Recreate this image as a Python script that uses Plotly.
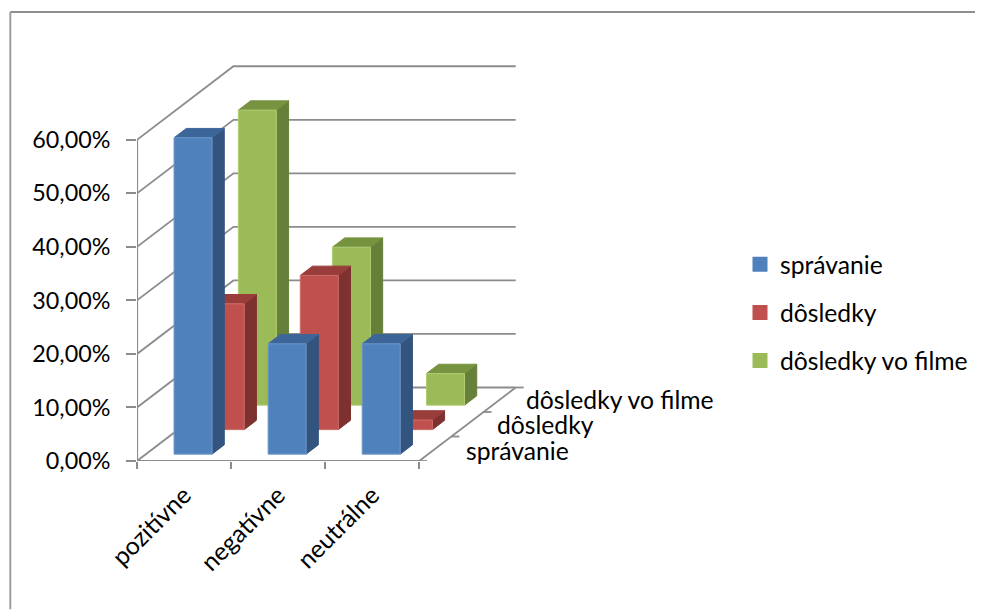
import plotly.graph_objects as go

categories = ["pozitívne", "negatívne", "neutrálne"]
series_names = ["správanie", "dôsledky", "dôsledky vo filme"]
spravanie = [59.1, 20.6, 20.6]
dosledky = [23.5, 28.8, 1.8]
dosledky_film = [55.1, 29.5, 5.9]
value_ticks = [0, 10, 20, 30, 40, 50, 60]
value_labels = ["0,00%", "10,00%", "20,00%", "30,00%", "40,00%", "50,00%", "60,00%"]

series_values = [spravanie, dosledky, dosledky_film]
front = ["#4F81BD", "#C0504D", "#9BBB59"]
edge = ["#6E98CB", "#CF6E6B", "#B0CC74"]
side = ["#33547E", "#7E3230", "#66803A"]
top = ["#3D6698", "#993D3B", "#76933F"]
GRAY = "#8C8C8C"
FONT = "Lato"
FS = 24.7
FS_NUM = 23.3
OFF = 8  # the page body margin

# page geometry of the plot area (figure pixels)
L, B, PX_CAT, PX_10 = 137.0 - OFF, 461.5 - OFF, 94.3, 53.6
R_PX, T_PX = 560.0 - OFF, 40.0 - OFF
W, H = 983 - OFF, 610 - OFF
# oblique projection: one series step of depth, in axis units
DX = 96.7 / 3 / PX_CAT
DY = 73.6 / 3 / (PX_10 / 10)
N_C, N_S = len(categories), len(series_names)
VMAX = value_ticks[-1]


def proj(c, d, v):
    return c + d * DX, v + d * DY


fig = go.Figure()


def lines(segs, width=1.5):
    xs, ys = [], []
    for seg in segs:
        for p in seg:
            x, y = proj(*p)
            xs.append(x)
            ys.append(y)
        xs.append(None)
        ys.append(None)
    fig.add_trace(go.Scatter(x=xs, y=ys, mode="lines", line=dict(color=GRAY, width=width),
                             hoverinfo="skip", showlegend=False, cliponaxis=False))


# walls and floor
grid = [[(0, 0, v), (0, N_S, v), (N_C, N_S, v)] for v in value_ticks]
lines(grid, 1.8)
lines([[(N_C, 0, 0), (N_C, N_S, 0)]], 1.8)
lines([[(0, 0, 0), (N_C, 0, 0)], [(0, 0, 0), (0, 0, VMAX)]], 2.2)

# depth axis ticks
tick_x = 8 / PX_CAT
xs, ys = [], []
for s in range(N_S + 1):
    cx, cy = proj(N_C, s, 0)
    xs += [cx, cx + tick_x, None]
    ys += [cy, cy, None]
fig.add_trace(go.Scatter(x=xs, y=ys, mode="lines", line=dict(color=GRAY, width=1.8),
                         hoverinfo="skip", showlegend=False, cliponaxis=False))


def face(pts, fill, line=None):
    xy = [proj(*p) for p in pts]
    xy.append(xy[0])
    fig.add_trace(go.Scatter(x=[p[0] for p in xy], y=[p[1] for p in xy], mode="lines",
                             fill="toself", fillcolor=fill,
                             line=dict(color=line or fill, width=1),
                             hoverinfo="skip", showlegend=False))


C0, C1 = 0.298, 0.702
D0, D1 = 0.28, 0.66
for s in reversed(range(N_S)):
    for c in range(N_C):
        v = series_values[s][c]
        a, b = c + C0, c + C1
        d0, d1 = s + D0, s + D1
        face([(b, d0, 0), (b, d1, 0), (b, d1, v), (b, d0, v)], side[s])
        face([(a, d0, v), (b, d0, v), (b, d1, v), (a, d1, v)], top[s])
        face([(a, d0, 0), (b, d0, 0), (b, d0, v), (a, d0, v)], front[s], edge[s])

# legend entries
for s in range(N_S):
    fig.add_trace(go.Scatter(x=[None], y=[None], mode="markers", name=series_names[s],
                             legendgroup=series_names[s],
                             marker=dict(symbol="square", size=15, color=front[s])))

# depth axis labels
annotations = []
label_dx = [29, 28, 24]
label_dy = [-2, 0, 0]
for s in range(N_S):
    x, y = proj(N_C, s + 0.5, 0)
    annotations.append(dict(x=x, y=y, xref="x", yref="y", text=series_names[s], showarrow=False,
                            xanchor="left", yanchor="middle", xshift=label_dx[s], yshift=label_dy[s],
                            font=dict(family=FONT, size=FS, color="#000000")))

PW, PH = R_PX - L, B - T_PX
shapes = [
    dict(type="line", xref="paper", yref="paper", x0=(2 - L) / PW, x1=(W - L) / PW,
         y0=(B - 4) / PH, y1=(B - 4) / PH, line=dict(color="#8E8E8E", width=2)),
    dict(type="line", xref="paper", yref="paper", x0=(2 - L) / PW, x1=(2 - L) / PW,
         y0=(B - H) / PH, y1=(B - 4) / PH, line=dict(color="#9E9E9E", width=2)),
]

fig.update_layout(
    width=W, height=H, autosize=False,
    margin=dict(l=L, r=W - R_PX, t=T_PX, b=H - B, pad=0),
    paper_bgcolor="white", plot_bgcolor="white",
    font=dict(family=FONT, size=FS, color="#000000"),
    showlegend=True,
    legend=dict(x=(732 - L) / PW, y=(B - 234) / PH, xanchor="left", yanchor="top",
                tracegroupgap=13, font=dict(family=FONT, size=FS), itemclick=False,
                bgcolor="rgba(0,0,0,0)"),
    annotations=annotations, shapes=shapes,
    xaxis=dict(range=[0, PW / PX_CAT], tickmode="array",
               tickvals=[i + 0.5 for i in range(N_C)], ticktext=categories, tickangle=-45,
               ticks="", showgrid=False, zeroline=False, showline=False, ticklabelstandoff=14,
               minor=dict(tickmode="array", tickvals=list(range(N_C + 1)), ticks="outside",
                          ticklen=7, tickcolor=GRAY, tickwidth=1.8, showgrid=False),
               tickfont=dict(family=FONT, size=FS)),
    yaxis=dict(range=[0, PH / (PX_10 / 10)], tickmode="array", tickvals=value_ticks,
               ticktext=value_labels, ticks="outside", ticklen=10, tickcolor=GRAY, tickwidth=1.8,
               showgrid=False, zeroline=False, showline=False,
               tickfont=dict(family=FONT, size=FS_NUM), ticklabelstandoff=11),
)

fig.write_html("out.html")
